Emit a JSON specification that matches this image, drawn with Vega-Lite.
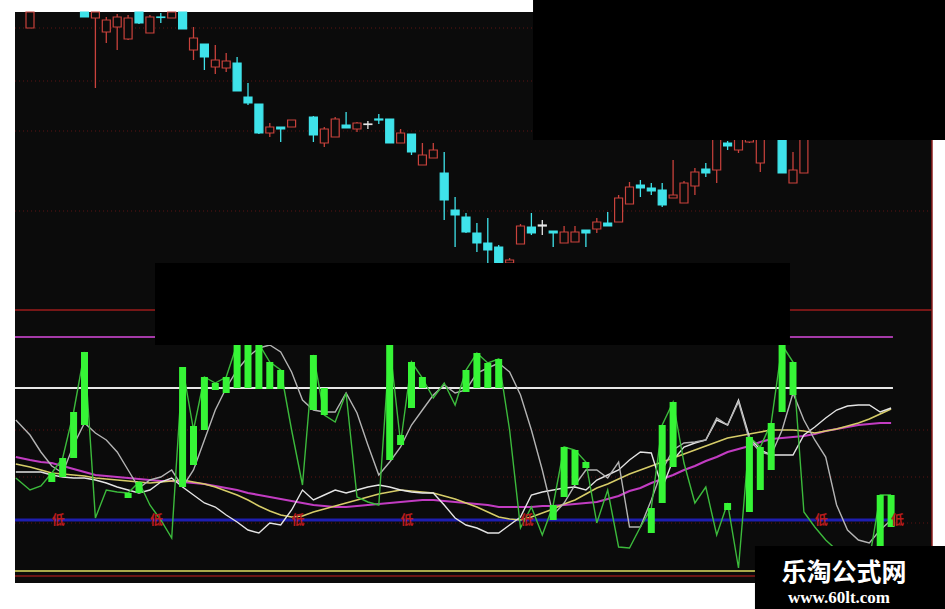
{
"$schema": "https://vega.github.io/schema/vega-lite/v6.json",
"width": 945, "height": 609,
"autosize": {"type": "fit", "contains": "padding"},
"padding": 0,
"background": "#ffffff",
"config": {"view": {"stroke": null}},
"datasets": {
"candles": [
{"i":0,"o":11.72,"c":11.88,"h":11.88,"l":11.72,"t":"up"},
{"i":5,"o":11.88,"c":11.83,"h":11.88,"l":11.83,"t":"down"},
{"i":6,"o":11.82,"c":11.88,"h":11.88,"l":11.12,"t":"up"},
{"i":7,"o":11.68,"c":11.80,"h":11.83,"l":11.57,"t":"up"},
{"i":8,"o":11.73,"c":11.83,"h":11.86,"l":11.50,"t":"up"},
{"i":9,"o":11.61,"c":11.82,"h":11.85,"l":11.60,"t":"up"},
{"i":10,"o":11.88,"c":11.77,"h":11.88,"l":11.76,"t":"down"},
{"i":11,"o":11.67,"c":11.83,"h":11.85,"l":11.67,"t":"up"},
{"i":12,"o":11.83,"c":11.825,"h":11.87,"l":11.77,"t":"down"},
{"i":13,"o":11.82,"c":11.88,"h":11.88,"l":11.82,"t":"up"},
{"i":14,"o":11.88,"c":11.71,"h":11.88,"l":11.71,"t":"down"},
{"i":15,"o":11.50,"c":11.62,"h":11.73,"l":11.40,"t":"up"},
{"i":16,"o":11.56,"c":11.43,"h":11.56,"l":11.30,"t":"down"},
{"i":17,"o":11.33,"c":11.40,"h":11.55,"l":11.26,"t":"up"},
{"i":18,"o":11.32,"c":11.39,"h":11.47,"l":11.28,"t":"up"},
{"i":19,"o":11.37,"c":11.09,"h":11.43,"l":11.09,"t":"down"},
{"i":20,"o":11.03,"c":10.97,"h":11.17,"l":10.95,"t":"down"},
{"i":21,"o":10.96,"c":10.67,"h":10.96,"l":10.66,"t":"down"},
{"i":22,"o":10.67,"c":10.73,"h":10.77,"l":10.63,"t":"up"},
{"i":23,"o":10.73,"c":10.71,"h":10.73,"l":10.58,"t":"down"},
{"i":24,"o":10.73,"c":10.80,"h":10.80,"l":10.73,"t":"up"},
{"i":26,"o":10.83,"c":10.65,"h":10.84,"l":10.58,"t":"down"},
{"i":27,"o":10.57,"c":10.71,"h":10.73,"l":10.53,"t":"up"},
{"i":28,"o":10.63,"c":10.81,"h":10.83,"l":10.63,"t":"up"},
{"i":29,"o":10.75,"c":10.72,"h":10.88,"l":10.72,"t":"down"},
{"i":30,"o":10.71,"c":10.77,"h":10.78,"l":10.68,"t":"up"},
{"i":31,"o":10.76,"c":10.755,"h":10.79,"l":10.71,"t":"doji"},
{"i":32,"o":10.81,"c":10.80,"h":10.86,"l":10.76,"t":"down"},
{"i":33,"o":10.81,"c":10.57,"h":10.81,"l":10.57,"t":"down"},
{"i":34,"o":10.57,"c":10.67,"h":10.71,"l":10.57,"t":"up"},
{"i":35,"o":10.66,"c":10.48,"h":10.66,"l":10.45,"t":"down"},
{"i":36,"o":10.35,"c":10.45,"h":10.57,"l":10.35,"t":"up"},
{"i":37,"o":10.42,"c":10.50,"h":10.57,"l":10.42,"t":"up"},
{"i":38,"o":10.27,"c":10.00,"h":10.48,"l":9.80,"t":"down"},
{"i":39,"o":9.90,"c":9.85,"h":10.03,"l":9.53,"t":"down"},
{"i":40,"o":9.83,"c":9.68,"h":9.87,"l":9.67,"t":"down"},
{"i":41,"o":9.67,"c":9.57,"h":9.77,"l":9.48,"t":"down"},
{"i":42,"o":9.57,"c":9.50,"h":9.82,"l":9.37,"t":"down"},
{"i":43,"o":9.53,"c":9.37,"h":9.55,"l":9.37,"t":"down"},
{"i":44,"o":9.37,"c":9.40,"h":9.42,"l":9.37,"t":"up"},
{"i":45,"o":9.56,"c":9.74,"h":9.76,"l":9.56,"t":"up"},
{"i":46,"o":9.73,"c":9.67,"h":9.87,"l":9.65,"t":"down"},
{"i":47,"o":9.75,"c":9.74,"h":9.80,"l":9.65,"t":"doji"},
{"i":48,"o":9.69,"c":9.67,"h":9.69,"l":9.53,"t":"down"},
{"i":49,"o":9.57,"c":9.68,"h":9.74,"l":9.57,"t":"up"},
{"i":50,"o":9.58,"c":9.68,"h":9.74,"l":9.58,"t":"up"},
{"i":51,"o":9.70,"c":9.67,"h":9.70,"l":9.53,"t":"down"},
{"i":52,"o":9.71,"c":9.78,"h":9.82,"l":9.67,"t":"up"},
{"i":53,"o":9.77,"c":9.74,"h":9.88,"l":9.74,"t":"down"},
{"i":54,"o":9.78,"c":10.02,"h":10.05,"l":9.78,"t":"up"},
{"i":55,"o":9.96,"c":10.13,"h":10.18,"l":9.96,"t":"up"},
{"i":56,"o":10.15,"c":10.12,"h":10.20,"l":10.03,"t":"down"},
{"i":57,"o":10.12,"c":10.09,"h":10.17,"l":10.05,"t":"down"},
{"i":58,"o":10.10,"c":9.95,"h":10.17,"l":9.93,"t":"down"},
{"i":59,"o":10.02,"c":10.05,"h":10.40,"l":10.02,"t":"up"},
{"i":60,"o":9.97,"c":10.17,"h":10.19,"l":9.97,"t":"up"},
{"i":61,"o":10.14,"c":10.28,"h":10.32,"l":10.05,"t":"up"},
{"i":62,"o":10.31,"c":10.27,"h":10.37,"l":10.23,"t":"down"},
{"i":63,"o":10.30,"c":10.65,"h":10.70,"l":10.17,"t":"up"},
{"i":64,"o":10.57,"c":10.54,"h":10.59,"l":10.50,"t":"down"},
{"i":65,"o":10.50,"c":10.62,"h":10.65,"l":10.47,"t":"up"},
{"i":66,"o":10.58,"c":10.70,"h":10.75,"l":10.57,"t":"up"},
{"i":67,"o":10.37,"c":10.70,"h":10.75,"l":10.28,"t":"up"},
{"i":69,"o":10.65,"c":10.27,"h":10.70,"l":10.27,"t":"down"},
{"i":70,"o":10.17,"c":10.30,"h":10.48,"l":10.17,"t":"up"},
{"i":71,"o":10.27,"c":10.65,"h":10.70,"l":10.27,"t":"up"}
],
"ind": [
{"i":-1.3,"k":102,"d":160,"w":108,"m1":116,"m2":123},
{"i":0,"k":90,"d":145,"w":108,"m1":113,"m2":120},
{"i":1,"k":94,"d":128,"w":108,"m1":110,"m2":118},
{"i":2,"k":107,"d":114,"w":105,"m1":107,"m2":117,"g1":107,"g2":98},
{"i":3,"k":122,"d":107,"w":103,"m1":106,"m2":114,"g1":122,"g2":103},
{"i":4,"k":168,"d":135,"w":102,"m1":105,"m2":111,"g1":168,"g2":122},
{"i":5,"k":228,"d":157,"w":102,"m1":104,"m2":108,"g1":228,"g2":155},
{"i":6,"k":62,"d":147,"w":100,"m1":102,"m2":105},
{"i":7,"k":90,"d":140,"w":97,"m1":101,"m2":104},
{"i":8,"k":88,"d":128,"w":93,"m1":100,"m2":103},
{"i":9,"k":87,"d":110,"w":90,"m1":99,"m2":102,"g1":87,"g2":82},
{"i":10,"k":98,"d":92,"w":87,"m1":98,"m2":101,"g1":98,"g2":87},
{"i":11,"k":75,"d":100,"w":90,"m1":97,"m2":100},
{"i":12,"k":60,"d":103,"w":98,"m1":98,"m2":99},
{"i":13,"k":42,"d":110,"w":102,"m1":99,"m2":99},
{"i":14,"k":213,"d":93,"w":93,"m1":100,"m2":98,"g1":213,"g2":93},
{"i":15,"k":150,"d":110,"w":85,"m1":98,"m2":97,"g1":154,"g2":115},
{"i":16,"k":203,"d":140,"w":77,"m1":96,"m2":96,"g1":203,"g2":150},
{"i":17,"k":197,"d":170,"w":73,"m1":93,"m2":94,"g1":197,"g2":190},
{"i":18,"k":203,"d":192,"w":65,"m1":89,"m2":92,"g1":203,"g2":187},
{"i":19,"k":236,"d":210,"w":58,"m1":85,"m2":90,"g1":236,"g2":192},
{"i":20,"k":236,"d":223,"w":50,"m1":80,"m2":87,"g1":236,"g2":192},
{"i":21,"k":236,"d":232,"w":47,"m1":74,"m2":85,"g1":236,"g2":191},
{"i":22,"k":218,"d":235,"w":57,"m1":69,"m2":83,"g1":218,"g2":191},
{"i":23,"k":210,"d":228,"w":55,"m1":65,"m2":81,"g1":210,"g2":191},
{"i":24,"k":150,"d":208,"w":70,"m1":63,"m2":79},
{"i":25,"k":95,"d":180,"w":90,"m1":64,"m2":77},
{"i":26,"k":225,"d":170,"w":80,"m1":68,"m2":75,"g1":225,"g2":170},
{"i":27,"k":165,"d":168,"w":85,"m1":71,"m2":74,"g1":192,"g2":165},
{"i":28,"k":158,"d":168,"w":90,"m1":74,"m2":73},
{"i":29,"k":187,"d":187,"w":87,"m1":77,"m2":73},
{"i":30,"k":83,"d":167,"w":90,"m1":80,"m2":74},
{"i":31,"k":78,"d":135,"w":93,"m1":83,"m2":75},
{"i":32,"k":75,"d":105,"w":95,"m1":86,"m2":76},
{"i":33,"k":235,"d":118,"w":93,"m1":88,"m2":77,"g1":235,"g2":120},
{"i":34,"k":137,"d":133,"w":90,"m1":90,"m2":78,"g1":145,"g2":135},
{"i":35,"k":218,"d":155,"w":88,"m1":89,"m2":79,"g1":218,"g2":172},
{"i":36,"k":202,"d":170,"w":87,"m1":88,"m2":80,"g1":203,"g2":192},
{"i":37,"k":182,"d":185,"w":87,"m1":87,"m2":80},
{"i":38,"k":197,"d":195,"w":75,"m1":84,"m2":79},
{"i":39,"k":175,"d":187,"w":62,"m1":81,"m2":78},
{"i":40,"k":210,"d":190,"w":55,"m1":77,"m2":77,"g1":210,"g2":188},
{"i":41,"k":227,"d":207,"w":52,"m1":73,"m2":76,"g1":227,"g2":192},
{"i":42,"k":217,"d":212,"w":47,"m1":68,"m2":75,"g1":217,"g2":192},
{"i":43,"k":221,"d":217,"w":47,"m1":63,"m2":73,"g1":221,"g2":192},
{"i":44,"k":150,"d":208,"w":55,"m1":61,"m2":73},
{"i":45,"k":52,"d":185,"w":63,"m1":60,"m2":73},
{"i":46,"k":73,"d":150,"w":85,"m1":63,"m2":73},
{"i":47,"k":45,"d":110,"w":88,"m1":67,"m2":74},
{"i":48,"k":75,"d":65,"w":90,"m1":71,"m2":74,"g1":75,"g2":60},
{"i":49,"k":133,"d":77,"w":92,"m1":76,"m2":75,"g1":133,"g2":83},
{"i":50,"k":130,"d":95,"w":93,"m1":80,"m2":76,"g1":130,"g2":95},
{"i":51,"k":118,"d":110,"w":90,"m1":86,"m2":77,"g1":118,"g2":112},
{"i":52,"k":57,"d":110,"w":100,"m1":92,"m2":78},
{"i":53,"k":90,"d":102,"w":105,"m1":96,"m2":81},
{"i":54,"k":33,"d":118,"w":110,"m1":101,"m2":84},
{"i":55,"k":32,"d":53,"w":120,"m1":106,"m2":89},
{"i":56,"k":53,"d":53,"w":128,"m1":110,"m2":92},
{"i":57,"k":72,"d":80,"w":127,"m1":114,"m2":97,"g1":72,"g2":47},
{"i":58,"k":155,"d":110,"w":92,"m1":118,"m2":101,"g1":155,"g2":77},
{"i":59,"k":178,"d":130,"w":120,"m1":122,"m2":105,"g1":178,"g2":113},
{"i":60,"k":117,"d":137,"w":133,"m1":126,"m2":110},
{"i":61,"k":77,"d":138,"w":137,"m1":130,"m2":114},
{"i":62,"k":93,"d":140,"w":140,"m1":134,"m2":119},
{"i":63,"k":45,"d":162,"w":160,"m1":138,"m2":123},
{"i":64,"k":77,"d":155,"w":155,"m1":142,"m2":128,"g1":77,"g2":70},
{"i":65,"k":12,"d":178,"w":180,"m1":144,"m2":131},
{"i":66,"k":143,"d":140,"w":143,"m1":146,"m2":134,"g1":143,"g2":68},
{"i":67,"k":133,"d":128,"w":130,"m1":148,"m2":138,"g1":133,"g2":90},
{"i":68,"k":157,"d":125,"w":125,"m1":150,"m2":141,"g1":157,"g2":110},
{"i":69,"k":235,"d":150,"w":125,"m1":150,"m2":142,"g1":235,"g2":168},
{"i":70,"k":218,"d":187,"w":125,"m1":150,"m2":143,"g1":218,"g2":185},
{"i":71,"k":68,"d":160,"w":145,"m1":149,"m2":144},
{"i":72,"k":53,"d":140,"w":153,"m1":147,"m2":146},
{"i":73,"k":40,"d":123,"w":162,"m1":149,"m2":149},
{"i":74,"k":30,"d":75,"w":170,"m1":151,"m2":151},
{"i":75,"k":15,"d":50,"w":174,"m1":154,"m2":153},
{"i":76,"k":5,"d":40,"w":175,"m1":157,"m2":155},
{"i":77,"k":20,"d":37,"w":175,"m1":161,"m2":156},
{"i":78,"k":85,"d":50,"w":168,"m1":166,"m2":157,"g1":85,"g2":33},
{"i":79,"k":85,"d":60,"w":172,"m1":171,"m2":157,"g1":85,"g2":53}
],
"lows": [{"i":2},{"i":11},{"i":24},{"i":34},{"i":45},{"i":72},{"i":79}]
},
"layer": [
{
"layer": [
{"data": {"values": [{}]}, "mark": {"type": "rect", "color": "#0b0b0b"},
 "encoding": {
  "x": {"datum": -1.376, "type": "quantitative", "scale": {"domain": [-2.752, 83.945], "nice": false, "zero": false, "padding": 0}, "axis": null},
  "x2": {"datum": 82.75},
  "y": {"datum": 11.88, "type": "quantitative", "scale": {"domain": [5.91, 12], "nice": false, "zero": false}, "axis": null},
  "y2": {"datum": 6.17}}},
{"data": {"values": [{"p": 11.72}, {"p": 11.19}, {"p": 10.69}, {"p": 9.89}]},
 "mark": {"type": "rule", "color": "#5e1616", "strokeDash": [1, 3], "strokeWidth": 1},
 "encoding": {
  "x": {"datum": -1.376, "type": "quantitative", "scale": {"domain": [-2.752, 83.945], "nice": false, "zero": false, "padding": 0}, "axis": null},
  "x2": {"datum": 82.75},
  "y": {"field": "p", "type": "quantitative", "scale": {"domain": [5.91, 12], "nice": false, "zero": false}, "axis": null}}},
{"data": {"name": "candles"}, "mark": {"type": "rule", "strokeWidth": 1.3},
 "encoding": {
  "x": {"field": "i", "type": "quantitative", "scale": {"domain": [-2.752, 83.945], "nice": false, "zero": false, "padding": 0}, "axis": null},
  "y": {"field": "h", "type": "quantitative", "scale": {"domain": [5.91, 12], "nice": false, "zero": false}, "axis": null},
  "y2": {"field": "l"},
  "color": {"field": "t", "type": "nominal", "scale": {"domain": ["up", "down", "doji"], "range": ["#c9423c", "#3fe3ea", "#e6e6e6"]}, "legend": null}}},
{"data": {"name": "candles"}, "mark": {"type": "bar", "size": 8, "strokeWidth": 1.2},
 "encoding": {
  "x": {"field": "i", "type": "quantitative", "scale": {"domain": [-2.752, 83.945], "nice": false, "zero": false, "padding": 0}, "axis": null},
  "y": {"field": "o", "type": "quantitative", "scale": {"domain": [5.91, 12], "nice": false, "zero": false}, "axis": null},
  "y2": {"field": "c"},
  "fill": {"field": "t", "type": "nominal", "scale": {"domain": ["up", "down", "doji"], "range": ["#0b0b0b", "#3fe3ea", "#e6e6e6"]}, "legend": null},
  "stroke": {"field": "t", "type": "nominal", "scale": {"domain": ["up", "down", "doji"], "range": ["#c9423c", "#3fe3ea", "#e6e6e6"]}, "legend": null}}}
]
},
{
"layer": [
{"data": {"values": [{"v": 270}]}, "mark": {"type": "rule", "color": "#9c1c1c", "strokeWidth": 1.5},
 "encoding": {"x": {"datum": -1.376, "type": "quantitative", "scale": {"domain": [-2.752, 83.945], "nice": false, "zero": false, "padding": 0}, "axis": null}, "x2": {"datum": 82.75},
  "y": {"field": "v", "type": "quantitative", "scale": {"domain": [-29, 580], "nice": false, "zero": false}, "axis": null}}},
{"data": {"values": [{"v": 243}]}, "mark": {"type": "rule", "color": "#a53aa8", "strokeWidth": 2},
 "encoding": {"x": {"datum": -1.376, "type": "quantitative", "scale": {"domain": [-2.752, 83.945], "nice": false, "zero": false, "padding": 0}, "axis": null}, "x2": {"datum": 79.17},
  "y": {"field": "v", "type": "quantitative", "scale": {"domain": [-29, 580], "nice": false, "zero": false}, "axis": null}}},
{"data": {"values": [{"v": 150}, {"v": 103}, {"v": 57}]}, "mark": {"type": "rule", "color": "#5e1616", "strokeDash": [1, 3], "strokeWidth": 1},
 "encoding": {"x": {"datum": -1.376, "type": "quantitative", "scale": {"domain": [-2.752, 83.945], "nice": false, "zero": false, "padding": 0}, "axis": null}, "x2": {"datum": 82.75},
  "y": {"field": "v", "type": "quantitative", "scale": {"domain": [-29, 580], "nice": false, "zero": false}, "axis": null}}},
{"data": {"values": [{"v": 192}]}, "mark": {"type": "rule", "color": "#e8e8e8", "strokeWidth": 2},
 "encoding": {"x": {"datum": -1.376, "type": "quantitative", "scale": {"domain": [-2.752, 83.945], "nice": false, "zero": false, "padding": 0}, "axis": null}, "x2": {"datum": 79.17},
  "y": {"field": "v", "type": "quantitative", "scale": {"domain": [-29, 580], "nice": false, "zero": false}, "axis": null}}},
{"data": {"values": [{"v": 60}]}, "mark": {"type": "rule", "color": "#1e1eb0", "strokeWidth": 3},
 "encoding": {"x": {"datum": -1.376, "type": "quantitative", "scale": {"domain": [-2.752, 83.945], "nice": false, "zero": false, "padding": 0}, "axis": null}, "x2": {"datum": 79.17},
  "y": {"field": "v", "type": "quantitative", "scale": {"domain": [-29, 580], "nice": false, "zero": false}, "axis": null}}},
{"data": {"values": [{"v": 9}]}, "mark": {"type": "rule", "color": "#a8a84a", "strokeWidth": 2},
 "encoding": {"x": {"datum": -1.376, "type": "quantitative", "scale": {"domain": [-2.752, 83.945], "nice": false, "zero": false, "padding": 0}, "axis": null}, "x2": {"datum": 82.75},
  "y": {"field": "v", "type": "quantitative", "scale": {"domain": [-29, 580], "nice": false, "zero": false}, "axis": null}}},
{"data": {"values": [{"v": 4}]}, "mark": {"type": "rule", "color": "#6a1414", "strokeWidth": 2},
 "encoding": {"x": {"datum": -1.376, "type": "quantitative", "scale": {"domain": [-2.752, 83.945], "nice": false, "zero": false, "padding": 0}, "axis": null}, "x2": {"datum": 82.75},
  "y": {"field": "v", "type": "quantitative", "scale": {"domain": [-29, 580], "nice": false, "zero": false}, "axis": null}}},
{"data": {"name": "ind"}, "mark": {"type": "line", "color": "#c23cc2", "strokeWidth": 2.2},
 "encoding": {"x": {"field": "i", "type": "quantitative", "scale": {"domain": [-2.752, 83.945], "nice": false, "zero": false, "padding": 0}, "axis": null},
  "y": {"field": "m2", "type": "quantitative", "scale": {"domain": [-29, 580], "nice": false, "zero": false}, "axis": null}}},
{"data": {"name": "ind"}, "mark": {"type": "line", "color": "#d6cc68", "strokeWidth": 1.6},
 "encoding": {"x": {"field": "i", "type": "quantitative", "scale": {"domain": [-2.752, 83.945], "nice": false, "zero": false, "padding": 0}, "axis": null},
  "y": {"field": "m1", "type": "quantitative", "scale": {"domain": [-29, 580], "nice": false, "zero": false}, "axis": null}}},
{"data": {"name": "ind"}, "mark": {"type": "line", "color": "#e4e4e4", "strokeWidth": 1.4},
 "encoding": {"x": {"field": "i", "type": "quantitative", "scale": {"domain": [-2.752, 83.945], "nice": false, "zero": false, "padding": 0}, "axis": null},
  "y": {"field": "w", "type": "quantitative", "scale": {"domain": [-29, 580], "nice": false, "zero": false}, "axis": null}}},
{"data": {"name": "ind"}, "mark": {"type": "line", "color": "#b4b4b4", "strokeWidth": 1.4},
 "encoding": {"x": {"field": "i", "type": "quantitative", "scale": {"domain": [-2.752, 83.945], "nice": false, "zero": false, "padding": 0}, "axis": null},
  "y": {"field": "d", "type": "quantitative", "scale": {"domain": [-29, 580], "nice": false, "zero": false}, "axis": null}}},
{"data": {"name": "ind"}, "mark": {"type": "line", "color": "#3cba3c", "strokeWidth": 1.4},
 "encoding": {"x": {"field": "i", "type": "quantitative", "scale": {"domain": [-2.752, 83.945], "nice": false, "zero": false, "padding": 0}, "axis": null},
  "y": {"field": "k", "type": "quantitative", "scale": {"domain": [-29, 580], "nice": false, "zero": false}, "axis": null}}},
{"data": {"name": "ind"}, "transform": [{"filter": "isValid(datum.g1)"}],
 "mark": {"type": "bar", "size": 7, "color": "#36f536"},
 "encoding": {"x": {"field": "i", "type": "quantitative", "scale": {"domain": [-2.752, 83.945], "nice": false, "zero": false, "padding": 0}, "axis": null},
  "y": {"field": "g1", "type": "quantitative", "scale": {"domain": [-29, 580], "nice": false, "zero": false}, "axis": null}, "y2": {"field": "g2"}}},
{"data": {"name": "lows"}, "mark": {"type": "text", "text": "低", "color": "#b81c1c", "fontSize": 13, "fontWeight": "bold", "font": "Noto Sans CJK SC", "align": "left", "baseline": "middle"},
 "encoding": {"x": {"field": "i", "type": "quantitative", "scale": {"domain": [-2.752, 83.945], "nice": false, "zero": false, "padding": 0}, "axis": null},
  "y": {"datum": 60, "type": "quantitative", "scale": {"domain": [-29, 580], "nice": false, "zero": false}, "axis": null}}}
]
},
{
"layer": [
{"data": {"values": [{}]}, "mark": {"type": "rule", "color": "#8a1a1a", "strokeWidth": 1.5},
 "encoding": {
  "x": {"datum": 82.75, "type": "quantitative", "scale": {"domain": [-2.752, 83.945], "nice": false, "zero": false, "padding": 0}, "axis": null},
  "y": {"datum": 10.6, "type": "quantitative", "scale": {"domain": [5.91, 12], "nice": false, "zero": false}, "axis": null},
  "y2": {"datum": 6.17}}},
{"data": {"values": [{}]}, "mark": {"type": "rect", "color": "#000000"},
 "encoding": {
  "x": {"datum": 46.15, "type": "quantitative", "scale": {"domain": [-2.752, 83.945], "nice": false, "zero": false, "padding": 0}, "axis": null},
  "x2": {"datum": 83.945},
  "y": {"datum": 12, "type": "quantitative", "scale": {"domain": [5.91, 12], "nice": false, "zero": false}, "axis": null},
  "y2": {"datum": 10.6}}},
{"data": {"values": [{}]}, "mark": {"type": "rect", "color": "#000000"},
 "encoding": {
  "x": {"datum": 11.47, "type": "quantitative", "scale": {"domain": [-2.752, 83.945], "nice": false, "zero": false, "padding": 0}, "axis": null},
  "x2": {"datum": 69.72},
  "y": {"datum": 9.37, "type": "quantitative", "scale": {"domain": [5.91, 12], "nice": false, "zero": false}, "axis": null},
  "y2": {"datum": 8.55}}},
{"data": {"values": [{}]}, "mark": {"type": "rect", "color": "#000000"},
 "encoding": {
  "x": {"datum": 66.51, "type": "quantitative", "scale": {"domain": [-2.752, 83.945], "nice": false, "zero": false, "padding": 0}, "axis": null},
  "x2": {"datum": 83.945},
  "y": {"datum": 6.54, "type": "quantitative", "scale": {"domain": [5.91, 12], "nice": false, "zero": false}, "axis": null},
  "y2": {"datum": 5.91}}},
{"data": {"values": [{}]}, "mark": {"type": "text", "text": "乐淘公式网", "color": "#ffffff", "fontSize": 25, "fontWeight": "bold", "font": "Noto Sans CJK SC", "align": "center", "baseline": "alphabetic"},
 "encoding": {
  "x": {"datum": 74.68, "type": "quantitative", "scale": {"domain": [-2.752, 83.945], "nice": false, "zero": false, "padding": 0}, "axis": null},
  "y": {"datum": 6.19, "type": "quantitative", "scale": {"domain": [5.91, 12], "nice": false, "zero": false}, "axis": null}}},
{"data": {"values": [{}]}, "mark": {"type": "text", "text": "www.60lt.com", "color": "#ffffff", "fontSize": 17, "fontWeight": "bold", "font": "Liberation Serif", "align": "center", "baseline": "alphabetic"},
 "encoding": {
  "x": {"datum": 74.22, "type": "quantitative", "scale": {"domain": [-2.752, 83.945], "nice": false, "zero": false, "padding": 0}, "axis": null},
  "y": {"datum": 5.97, "type": "quantitative", "scale": {"domain": [5.91, 12], "nice": false, "zero": false}, "axis": null}}}
]
}
],
"resolve": {"scale": {"y": "independent"}}
}
